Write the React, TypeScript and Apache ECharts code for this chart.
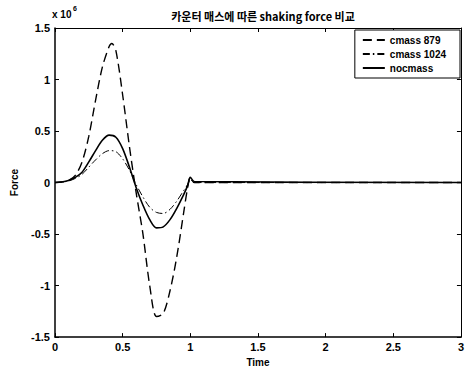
import React, { useEffect, useRef } from "react";
import * as echarts from "echarts";

const seriesNames = ["cmass 879", "cmass 1024", "nocmass"];

const timeA = [0, 0.05, 0.1, 0.15, 0.2, 0.25, 0.3, 0.35, 0.4, 0.42, 0.45, 0.5, 0.55, 0.6, 0.65, 0.7, 0.75, 0.8, 0.85, 0.9, 0.95, 0.98, 1.0, 1.03, 3];
const cmass879 = [0, 0.005, 0.02, 0.07, 0.2, 0.45, 0.8, 1.12, 1.32, 1.35, 1.28, 0.85, 0.35, -0.1, -0.5, -1.0, -1.3, -1.27, -1.05, -0.72, -0.3, -0.05, 0.05, 0, 0];

const timeB = [0, 0.05, 0.1, 0.15, 0.2, 0.25, 0.3, 0.35, 0.4, 0.45, 0.5, 0.55, 0.6, 0.65, 0.7, 0.75, 0.8, 0.85, 0.9, 0.95, 0.98, 1.0, 1.03, 3];
const cmass1024 = [0, 0.005, 0.015, 0.04, 0.08, 0.15, 0.22, 0.28, 0.31, 0.3, 0.23, 0.12, -0.02, -0.14, -0.24, -0.29, -0.3, -0.26, -0.18, -0.08, -0.02, 0.03, 0, 0];
const nocmass = [0, 0.005, 0.02, 0.05, 0.1, 0.2, 0.31, 0.41, 0.46, 0.44, 0.33, 0.15, -0.05, -0.22, -0.36, -0.44, -0.43, -0.36, -0.25, -0.12, -0.03, 0.05, 0.01, 0];

const pairs = (t: number[], v: number[]) => t.map((x, i) => [x, v[i]]);

export default function App() {
  const ref = useRef<HTMLDivElement>(null);
  useEffect(() => {
    const chart = echarts.init(ref.current!, null, { renderer: "svg" });
    const font = "'Liberation Sans', Arial, sans-serif";
    const tick = { inside: true, length: 4, lineStyle: { color: "#000" } };
    chart.setOption({
      animation: false,
      backgroundColor: "#fff",
      title: {
        text: "카운터 매스에 따른 shaking force 비교",
        left: 258,
        textAlign: "center",
        top: 5,
        textStyle: { fontFamily: "'Noto Sans CJK KR', sans-serif", fontSize: 11, fontWeight: "bold", color: "#000" },
      },
      graphic: [
        { type: "text", left: 52, top: 9, style: { text: "x 10", font: `bold 10px ${font}`, fill: "#000" } },
        { type: "text", left: 73, top: 5, style: { text: "6", font: `bold 7px ${font}`, fill: "#000" } },
      ],
      legend: {
        orient: "vertical",
        right: 7,
        top: 30,
        itemWidth: 22,
        itemHeight: 10,
        itemGap: 4,
        padding: [5, 14, 5, 7],
        borderColor: "#000",
        borderWidth: 1,
        borderRadius: 0,
        backgroundColor: "#fff",
        itemStyle: { opacity: 0 },
        textStyle: { fontFamily: font, fontSize: 10, fontWeight: "bold", color: "#000" },
        data: seriesNames,
      },
      grid: { left: 55, right: 4, top: 28, bottom: 32 },
      xAxis: [
        {
          type: "value",
          min: 0,
          max: 3,
          interval: 0.5,
          name: "Time",
          nameLocation: "middle",
          nameGap: 17,
          nameTextStyle: { fontFamily: font, fontSize: 10, fontWeight: "bold", color: "#000" },
          axisLabel: { fontFamily: font, fontSize: 11, fontWeight: "bold", color: "#000", margin: 4 },
          axisLine: { onZero: false, lineStyle: { color: "#000", width: 1.5 } },
          axisTick: tick,
          splitLine: { show: false },
        },
        {
          type: "value",
          position: "top",
          min: 0,
          max: 3,
          interval: 0.5,
          axisLabel: { show: false },
          axisLine: { onZero: false, lineStyle: { color: "#000", width: 1 } },
          axisTick: tick,
          splitLine: { show: false },
        },
      ],
      yAxis: [
        {
          type: "value",
          min: -1.5,
          max: 1.5,
          interval: 0.5,
          name: "Force",
          nameLocation: "middle",
          nameGap: 36,
          nameTextStyle: { fontFamily: font, fontSize: 10, fontWeight: "bold", color: "#000" },
          axisLabel: { fontFamily: font, fontSize: 11, fontWeight: "bold", color: "#000", margin: 5 },
          axisLine: { onZero: false, lineStyle: { color: "#000", width: 1.5 } },
          axisTick: tick,
          splitLine: { show: false },
        },
        {
          type: "value",
          position: "right",
          min: -1.5,
          max: 1.5,
          interval: 0.5,
          axisLabel: { show: false },
          axisLine: { onZero: false, lineStyle: { color: "#000", width: 1 } },
          axisTick: tick,
          splitLine: { show: false },
        },
      ],
      series: [
        {
          name: seriesNames[0],
          type: "line",
          data: pairs(timeA, cmass879),
          smooth: 0.3,
          symbol: "none",
          lineStyle: { color: "#000", width: 1.4, type: [9, 5] },
          itemStyle: { color: "#000" },
        },
        {
          name: seriesNames[1],
          type: "line",
          data: pairs(timeB, cmass1024),
          smooth: 0.3,
          symbol: "none",
          lineStyle: { color: "#000", width: 1, type: [7, 3, 1.5, 3] },
          itemStyle: { color: "#000" },
        },
        {
          name: seriesNames[2],
          type: "line",
          data: pairs(timeB, nocmass),
          smooth: 0.3,
          symbol: "none",
          lineStyle: { color: "#000", width: 1.6 },
          itemStyle: { color: "#000" },
        },
      ],
    });
    return () => chart.dispose();
  }, []);
  return <div ref={ref} style={{ width: 467, height: 372, position: "absolute", left: 0, top: 0 }} />;
}
